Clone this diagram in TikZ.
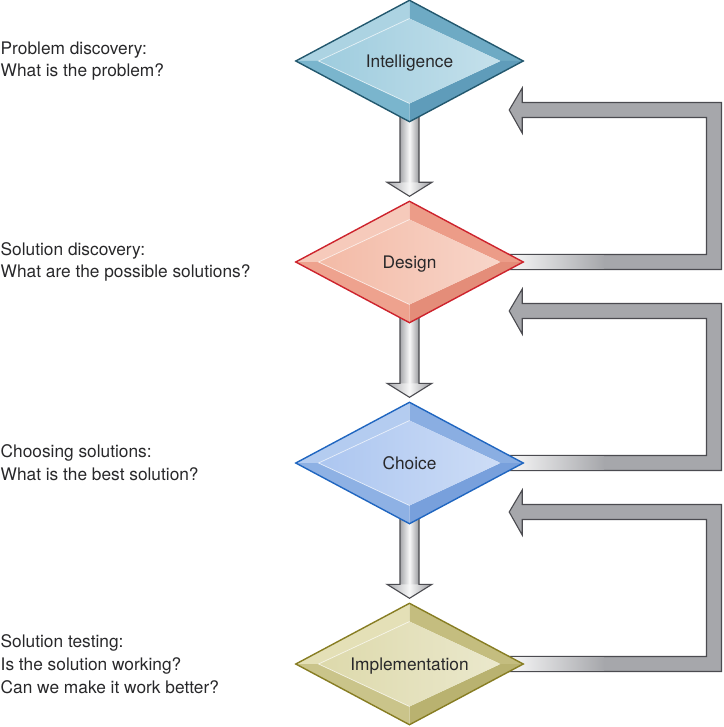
\documentclass[tikz,border=0pt]{standalone}
\usepackage{fontspec}
\setmainfont{TeX Gyre Heros}
\usetikzlibrary{calc,shapes.geometric}
\newcommand\XM{409.5}
\newcommand\XR{714}
\newcommand\Y{61}
\newcommand\dY{201}
\newcommand\dW{7.5}
\newcommand\labelfont{\fontsize{17.3}{22.7}\selectfont}
\pgfdeclarelayer{arrows}
\pgfsetlayers{arrows,main}

\definecolor{arrowgray}{RGB}{166,167,171}
\definecolor{arrowedge}{RGB}{75,75,80}
\definecolor{labelgray}{RGB}{40,40,42}
% Intelligence
\definecolor{intedge}{RGB}{35,88,110}
\definecolor{intlight}{RGB}{172,211,226}
\definecolor{intdark}{RGB}{110,170,196}
\definecolor{intdeep}{RGB}{95,156,186}
\definecolor{intmid}{RGB}{122,181,205}
\definecolor{intcore}{RGB}{158,204,222}
% Design
\definecolor{desedge}{RGB}{205,35,45}
\definecolor{deslight}{RGB}{246,202,187}
\definecolor{desdark}{RGB}{236,156,136}
\definecolor{desdeep}{RGB}{228,141,121}
\definecolor{desmid}{RGB}{238,162,142}
\definecolor{descore}{RGB}{243,186,166}
% Choice
\definecolor{choedge}{RGB}{32,102,192}
\definecolor{cholight}{RGB}{180,204,240}
\definecolor{chodark}{RGB}{138,174,226}
\definecolor{chodeep}{RGB}{120,160,220}
\definecolor{chomid}{RGB}{142,177,228}
\definecolor{chocore}{RGB}{172,198,240}
% Implementation
\definecolor{impedge}{RGB}{135,125,35}
\definecolor{implight}{RGB}{228,224,183}
\definecolor{impdark}{RGB}{196,189,127}
\definecolor{impdeep}{RGB}{185,178,112}
\definecolor{impmid}{RGB}{202,196,138}
\definecolor{impcore}{RGB}{221,217,171}

\begin{document}
\begin{tikzpicture}
  [x=1pt,y=-1pt,
   stage/.style = {
     diamond, draw=#1edge, line width=1.4pt, inner sep=0pt,
     minimum width=228pt, minimum height=122pt, aspect=1.87,
     text height=12.4pt, text depth=0pt,
     text=labelgray, font=\labelfont,
     path picture = {
       \coordinate (C) at (path picture bounding box.center);
       \coordinate (N) at (path picture bounding box.north);
       \coordinate (E) at (path picture bounding box.east);
       \coordinate (S) at (path picture bounding box.south);
       \coordinate (W) at (path picture bounding box.west);
       \coordinate (n) at ($(C)!0.70!(N)$);
       \coordinate (e) at ($(C)!0.80!(E)$);
       \coordinate (s) at ($(C)!0.70!(S)$);
       \coordinate (w) at ($(C)!0.80!(W)$);
       \fill[#1light] (W) -- (N) -- (n) -- (w) -- cycle;
       \fill[#1dark] (N) -- (E) -- (e) -- (n) -- cycle;
       \fill[#1deep] (E) -- (S) -- (s) -- (e) -- cycle;
       \fill[#1mid] (S) -- (W) -- (w) -- (s) -- cycle;
       \shade[left color=#1core, right color=#1core!60!white]
         (n) -- (e) -- (s) -- (w) -- cycle;
       \draw[white, opacity=0.6, line width=0.8pt] (s) -- (w) -- (n);
     }
   },
   note/.style = {
     anchor=west, align=left, inner sep=0pt, text=labelgray, font=\labelfont
   },
   arrowline/.style = {
     draw=arrowedge, line width=1.1pt, line join=miter
   },
   shaftshade/.style = {
     left color=arrowgray, right color=arrowgray!92!black, middle color=white!92!arrowgray
   },
   retarrow/.style = {
     fill=arrowgray, draw=arrowedge, line width=1.1pt, line join=miter
   },
   fadeband/.style = {
     left color=white, right color=arrowgray
   }]

  \useasboundingbox (0,0) rectangle (723,727);

  % The four stages.
  \node[stage=int] at (\XM, \Y+0*\dY) (int) {Intelligence};
  \node[stage=des] at (\XM, \Y+1*\dY) (des) {Design};
  \node[stage=cho] at (\XM, \Y+2*\dY) (cho) {Choice};
  \node[stage=imp] at (\XM, \Y+3*\dY) (imp) {Implementation};

  % Questions on the left.
  \node[note] at (0.5, \Y+0*\dY) (probtext) {Problem discovery:\\What is the problem?};
  \node[note] at (0.5, \Y+1*\dY) (soltext) {Solution discovery:\\What are the possible solutions?};
  \node[note] at (0.5, \Y+2*\dY) (choosetext) {Choosing solutions:\\What is the best solution?};
  \node[note] at (0.5, \Y+3*\dY) (testtext) {Solution testing:\\Is the solution working?\\Can we make it work better?};

  \begin{pgfonlayer}{arrows}
	% Downward arrows.
	\coordinate (t1) at ($(des.north)+(0,-4)$);
	\coordinate (t2) at ($(cho.north)+(0,-4)$);
	\coordinate (t3) at ($(imp.north)+(0,-4)$);

	\shade[shaftshade] ($(int.south)+(-9.5,-14)$) rectangle ($(t1)+(9.5,-14)$);
	\shade[shaftshade] ($(t1)+(-22.5,-14)$) -- (t1) -- ($(t1)+(22.5,-14)$) -- cycle;
	\draw[arrowline] ($(int.south)+(-9.5,-14)$) -- ($(t1)+(-9.5,-14)$) -- ($(t1)+(-22.5,-14)$) -- (t1)
	  -- ($(t1)+(22.5,-14)$) -- ($(t1)+(9.5,-14)$) -- ($(int.south)+(9.5,-14)$);

	\shade[shaftshade] ($(des.south)+(-9.5,-14)$) rectangle ($(t2)+(9.5,-14)$);
	\shade[shaftshade] ($(t2)+(-22.5,-14)$) -- (t2) -- ($(t2)+(22.5,-14)$) -- cycle;
	\draw[arrowline] ($(des.south)+(-9.5,-14)$) -- ($(t2)+(-9.5,-14)$) -- ($(t2)+(-22.5,-14)$) -- (t2)
	  -- ($(t2)+(22.5,-14)$) -- ($(t2)+(9.5,-14)$) -- ($(des.south)+(9.5,-14)$);

	\shade[shaftshade] ($(cho.south)+(-9.5,-14)$) rectangle ($(t3)+(9.5,-14)$);
	\shade[shaftshade] ($(t3)+(-22.5,-14)$) -- (t3) -- ($(t3)+(22.5,-14)$) -- cycle;
	\draw[arrowline] ($(cho.south)+(-9.5,-14)$) -- ($(t3)+(-9.5,-14)$) -- ($(t3)+(-22.5,-14)$) -- (t3)
	  -- ($(t3)+(22.5,-14)$) -- ($(t3)+(9.5,-14)$) -- ($(cho.south)+(9.5,-14)$);

	% Feedback arrows on the right.
	\coordinate (r1) at ($(int.east)+(-15,49)$);
	\coordinate (r2) at ($(des.east)+(-15,49)$);
	\coordinate (r3) at ($(cho.east)+(-15,49)$);
	\coordinate (rc1) at (\XR, \Y+0*\dY+49);
	\coordinate (rc2) at (\XR, \Y+1*\dY+49);
	\coordinate (rc3) at (\XR, \Y+2*\dY+49);

	\draw[retarrow] (r1) -- ++(13,-22) -- ++(0,22-\dW) -- ($(rc1)+(\dW,-\dW)$)
	  -- ($(rc1|-des.east)+(\dW,\dW)$) -- ($(des.east)+(-24,\dW)$) -- ($(des.east)+(-24,-\dW)$)
	  -- ($(rc1|-des.east)+(-\dW,-\dW)$) -- ($(rc1)+(-\dW,\dW)$) -- ($(r1)+(13,\dW)$)
	  -- ($(r1)+(13,23)$) -- cycle;
	\shade[fadeband] ($(des.east)+(-24,-\dW+0.7)$) rectangle ($(des.east)+(80,\dW-0.7)$);

	\draw[retarrow] (r2) -- ++(13,-22) -- ++(0,22-\dW) -- ($(rc2)+(\dW,-\dW)$)
	  -- ($(rc2|-cho.east)+(\dW,\dW)$) -- ($(cho.east)+(-24,\dW)$) -- ($(cho.east)+(-24,-\dW)$)
	  -- ($(rc2|-cho.east)+(-\dW,-\dW)$) -- ($(rc2)+(-\dW,\dW)$) -- ($(r2)+(13,\dW)$)
	  -- ($(r2)+(13,23)$) -- cycle;
	\shade[fadeband] ($(cho.east)+(-24,-\dW+0.7)$) rectangle ($(cho.east)+(80,\dW-0.7)$);

	\draw[retarrow] (r3) -- ++(13,-22) -- ++(0,22-\dW) -- ($(rc3)+(\dW,-\dW)$)
	  -- ($(rc3|-imp.east)+(\dW,\dW)$) -- ($(imp.east)+(-24,\dW)$) -- ($(imp.east)+(-24,-\dW)$)
	  -- ($(rc3|-imp.east)+(-\dW,-\dW)$) -- ($(rc3)+(-\dW,\dW)$) -- ($(r3)+(13,\dW)$)
	  -- ($(r3)+(13,23)$) -- cycle;
	\shade[fadeband] ($(imp.east)+(-24,-\dW+0.7)$) rectangle ($(imp.east)+(80,\dW-0.7)$);
  \end{pgfonlayer}

\end{tikzpicture}
\end{document}
